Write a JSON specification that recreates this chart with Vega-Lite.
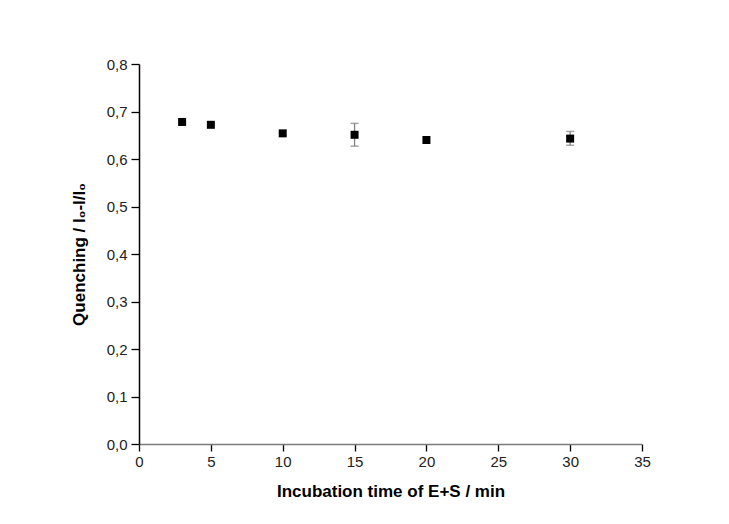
{
  "$schema": "https://vega.github.io/schema/vega-lite/v6.json",
  "width": 503,
  "height": 380,
  "autosize": {"type": "none"},
  "padding": {"left": 139, "top": 64, "right": 87, "bottom": 80},
  "background": "#ffffff",
  "config": {
    "view": {"stroke": null},
    "axis": {
      "domainColor": "#000000",
      "domainWidth": 1.5,
      "tickColor": "#000000",
      "tickWidth": 1.3,
      "labelFont": "Liberation Sans",
      "labelFontSize": 15,
      "labelColor": "#222222",
      "labelFlush": false,
      "labelOverlap": false,
      "titleFont": "Liberation Sans",
      "titleFontSize": 17,
      "titleFontWeight": "bold",
      "titleColor": "#000000",
      "grid": false
    }
  },
  "data": {
    "values": [
      {"t": 3, "q": 0.678, "lo": 0.678, "hi": 0.678},
      {"t": 5, "q": 0.672, "lo": 0.672, "hi": 0.672},
      {"t": 10, "q": 0.654, "lo": 0.654, "hi": 0.654},
      {"t": 15, "q": 0.651, "lo": 0.627, "hi": 0.675},
      {"t": 20, "q": 0.640, "lo": 0.640, "hi": 0.640},
      {"t": 30, "q": 0.643, "lo": 0.629, "hi": 0.658}
    ]
  },
  "layer": [
    {
      "transform": [{"filter": "datum.hi > datum.lo"}],
      "mark": {"type": "rule", "color": "#808080", "strokeWidth": 1.3},
      "encoding": {
        "x": {"field": "t", "type": "quantitative"},
        "y": {"field": "lo", "type": "quantitative"},
        "y2": {"field": "hi"}
      }
    },
    {
      "transform": [{"filter": "datum.hi > datum.lo"}],
      "mark": {"type": "tick", "orient": "horizontal", "color": "#808080", "size": 8, "thickness": 1.5},
      "encoding": {
        "x": {"field": "t", "type": "quantitative"},
        "y": {"field": "lo", "type": "quantitative"}
      }
    },
    {
      "transform": [{"filter": "datum.hi > datum.lo"}],
      "mark": {"type": "tick", "orient": "horizontal", "color": "#808080", "size": 8, "thickness": 1.5},
      "encoding": {
        "x": {"field": "t", "type": "quantitative"},
        "y": {"field": "hi", "type": "quantitative"}
      }
    },
    {
      "mark": {"type": "point", "shape": "square", "filled": true, "color": "#000000", "size": 64, "opacity": 1},
      "encoding": {
        "x": {
          "field": "t",
          "type": "quantitative",
          "scale": {"domain": [0, 35], "nice": false, "zero": false},
          "axis": {
            "title": "Incubation time of E+S / min",
            "domainColor": "#7a7a7a",
            "values": [0, 2.5, 5, 7.5, 10, 12.5, 15, 17.5, 20, 22.5, 25, 27.5, 30, 32.5, 35],
            "labelExpr": "datum.value % 5 == 0 ? datum.value : ''",
            "tickSize": {"condition": {"test": "datum.value % 5 == 0", "value": 7}, "value": 4},
            "labelPadding": 3,
            "titlePadding": 14
          }
        },
        "y": {
          "field": "q",
          "type": "quantitative",
          "scale": {"domain": [0, 0.8], "nice": false, "zero": false},
          "axis": {
            "title": "Quenching / I₀-I/I₀",
            "values": [0, 0.05, 0.1, 0.15, 0.2, 0.25, 0.3, 0.35, 0.4, 0.45, 0.5, 0.55, 0.6, 0.65, 0.7, 0.75, 0.8],
            "labelExpr": "abs(round(datum.value * 100) % 10) < 0.5 ? replace(format(datum.value, '.1f'), '.', ',') : ''",
            "tickSize": {"condition": {"test": "abs(round(datum.value * 100) % 10) < 0.5", "value": 8}, "value": 4},
            "labelPadding": 4,
            "titlePadding": 18
          }
        }
      }
    }
  ]
}
